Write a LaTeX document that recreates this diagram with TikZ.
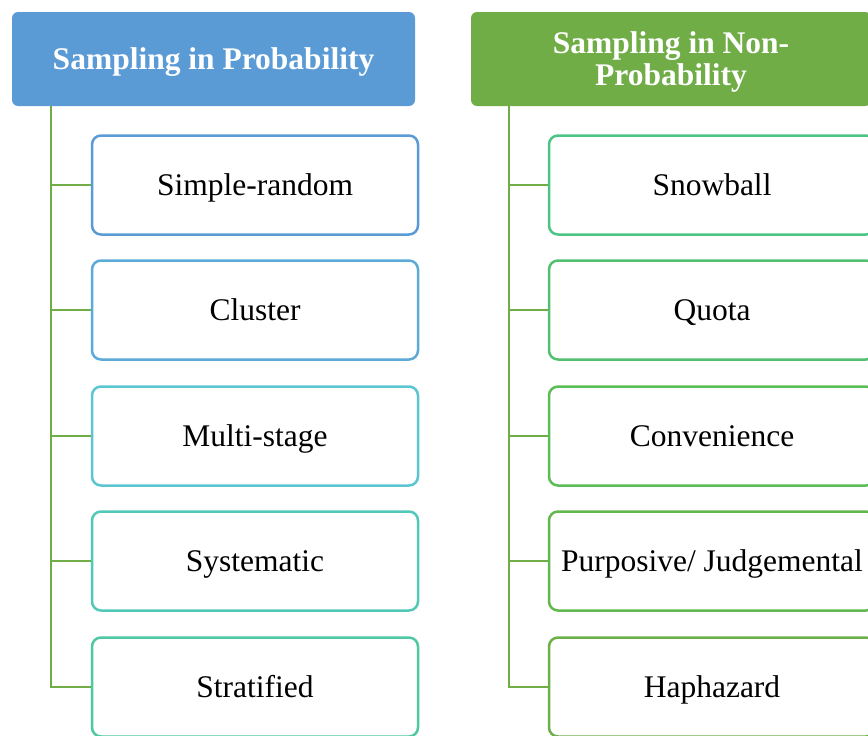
\documentclass[tikz,border=0pt]{standalone}
\usepackage{fontspec}
\setmainfont{Liberation Serif}
\definecolor{hblue}{HTML}{5B9BD5}
\definecolor{hgreen}{HTML}{70AD47}
\definecolor{c1}{HTML}{5B9BD5}
\definecolor{c2}{HTML}{5BAAD8}
\definecolor{c3}{HTML}{5BC6D2}
\definecolor{c4}{HTML}{52C9B8}
\definecolor{c5}{HTML}{4EC8A2}
\definecolor{c6}{HTML}{4CC483}
\definecolor{c7}{HTML}{52C070}
\definecolor{c8}{HTML}{5ABD57}
\definecolor{c9}{HTML}{62B84F}
\definecolor{c10}{HTML}{6DB04A}
\tikzset{
  header/.style={rounded corners=6pt, minimum width=403pt, minimum height=94pt, inner sep=0pt,
    text=white, align=center, font=\fontsize{31.5}{32}\selectfont\bfseries},
  child/.style={draw, line width=2.5pt, rounded corners=9pt, fill=white, minimum width=326pt,
    minimum height=99pt, inner sep=0pt, text height=21pt, text depth=0pt,
    font=\fontsize{31.5}{36}\selectfont},
  link/.style={draw=hgreen, line width=2.7pt}
}
\begin{document}
\begin{tikzpicture}[x=1pt,y=-1pt]
\useasboundingbox (0,0) rectangle (868,736);
% headers
\node[header, fill=hblue, text height=21pt, text depth=0pt] (h1) at (213.5,59) {Sampling in Probability};
\node[header, fill=hgreen, minimum width=400pt] (h2) at (671,59) {};
\node[header, minimum width=0pt, minimum height=0pt] (h2t) at (671,62) {Sampling in Non-\\Probability};
% left children
\node[child, draw=c1] (a1) at (255,185) {Simple-random};
\node[child, draw=c2] (a2) at (255,310) {Cluster};
\node[child, draw=c3] (a3) at (255,436) {Multi-stage};
\node[child, draw=c4] (a4) at (255,561) {Systematic};
\node[child, draw=c5] (a5) at (255,687) {Stratified};
% right children
\node[child, draw=c6] (b1) at (712,185) {Snowball};
\node[child, draw=c7] (b2) at (712,310) {Quota};
\node[child, draw=c8] (b3) at (712,436) {Convenience};
\node[child, draw=c9] (b4) at (712,561) {Purposive/ Judgemental};
\node[child, draw=c10] (b5) at (712,687) {Haphazard};
% trunks
\coordinate (ta) at (51,106);
\coordinate (tb) at (509,106);
\draw[link] (ta) |- (a5.west);
\foreach \n in {a1,a2,a3,a4} \draw[link] (ta |- \n.west) -- (\n.west);
\draw[link] (tb) |- (b5.west);
\foreach \n in {b1,b2,b3,b4} \draw[link] (tb |- \n.west) -- (\n.west);
\end{tikzpicture}
\end{document}
